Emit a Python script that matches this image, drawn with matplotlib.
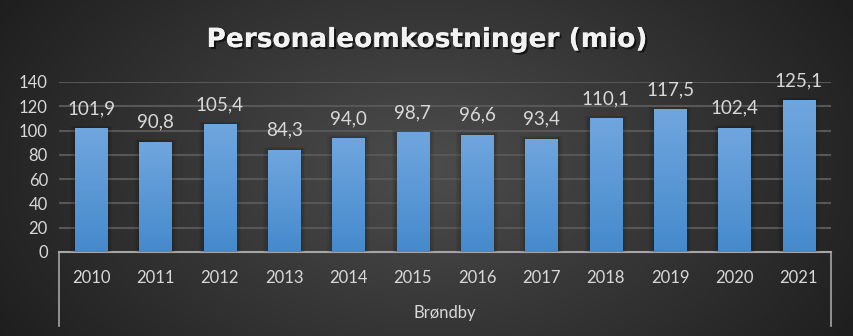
import numpy as np
import matplotlib.pyplot as plt
from matplotlib.patches import Rectangle
import matplotlib.patheffects as pe

# data
years = ['2010', '2011', '2012', '2013', '2014', '2015', '2016', '2017', '2018', '2019', '2020', '2021']
values = [101.9, 90.8, 105.4, 84.3, 94.0, 98.7, 96.6, 93.4, 110.1, 117.5, 102.4, 125.1]
labels = ['101,9', '90,8', '105,4', '84,3', '94,0', '98,7', '96,6', '93,4', '110,1', '117,5', '102,4', '125,1']
group = 'Brøndby'
title = 'Personaleomkostninger (mio)'

plt.rcParams['font.family'] = ['Lato', 'DejaVu Sans']

W, H = 854, 336
fig = plt.figure(figsize=(W / 100, H / 100), dpi=100)

# radial background
bg = fig.add_axes([0, 0, 1, 1])
yy, xx = np.mgrid[0:H, 0:W]
r = np.sqrt(((xx - W * 0.5) / (W * 0.55)) ** 2 + ((yy - H * 0.5) / (H * 0.9)) ** 2)
shade = np.clip(0.30 - 0.17 * r, 0.11, 0.30)
bg.imshow(np.dstack([shade] * 3), extent=[0, W, H, 0], aspect='auto')
bg.set_xlim(0, W)
bg.set_ylim(H, 0)
bg.axis('off')

# plot area in pixels: x 59..831, y=0 at 252, y=140 at 82
x0, x1 = 59, 831
yb, yt = 252, 82
ax = fig.add_axes([x0 / W, 1 - yb / H, (x1 - x0) / W, (yb - yt) / H])
ax.patch.set_alpha(0)

for v in range(20, 141, 20):
    ax.axhline(v, color='#575757', lw=1.5, zorder=0)

xs = np.arange(len(years))
bw = 0.5
grad = np.linspace(0, 1, 256).reshape(-1, 1)
top = np.array([0.44, 0.65, 0.87])
bot = np.array([0.27, 0.54, 0.80])
cols = (bot + (top - bot) * grad).reshape(256, 1, 3)

for x, v, lab in zip(xs, values, labels):
    # soft shadow
    for k in range(4):
        d = 0.02 * (k + 1)
        ax.add_patch(Rectangle((x - bw / 2 - d, 0), bw + 2 * d, v + d * 25,
                               color='black', alpha=0.05, lw=0, zorder=1))
    im = ax.imshow(cols, extent=[x - bw / 2, x + bw / 2, 0, v], origin='lower',
                   aspect='auto', zorder=2)
    rect = Rectangle((x - bw / 2, 0), bw, v, transform=ax.transData, fc='none', lw=0)
    ax.add_patch(rect)
    im.set_clip_path(rect)
    ax.text(x, v + 9, lab, ha='center', va='bottom', color='#d9d9d9', fontsize=13.5, zorder=3)

ax.set_xlim(-0.5, len(years) - 0.5)
ax.set_ylim(0, 140)
ax.set_yticks(range(0, 141, 20))
ax.set_xticks([])
ax.tick_params(axis='y', length=0, labelsize=12, labelcolor='#d9d9d9', pad=8)
for s in ax.spines.values():
    s.set_visible(False)

# category axis with group bracket
axis_col = '#a6a6a6'
bg.plot([x0, x1], [yb, yb], color=axis_col, lw=1.5)
bg.plot([x0, x0], [yb, 326], color=axis_col, lw=1.2)
bg.plot([x1, x1], [yb, 326], color=axis_col, lw=1.2)
for i, yr in enumerate(years):
    px = x0 + (x1 - x0) * (i + 0.5) / len(years)
    bg.text(px, 278, yr, ha='center', va='center', color='#d9d9d9', fontsize=12)
bg.text((x0 + x1) / 2, 313, group, ha='center', va='center', color='#d9d9d9', fontsize=12)

bg.text(W / 2, 40, title, ha='center', va='center', color='#f2f2f2', fontsize=19,
        fontweight='bold', family='DejaVu Sans',
        path_effects=[pe.withSimplePatchShadow(offset=(1.5, -1.5), shadow_rgbFace='black', alpha=0.6),
                      pe.Normal()])

fig.savefig('out.png', dpi=100)
